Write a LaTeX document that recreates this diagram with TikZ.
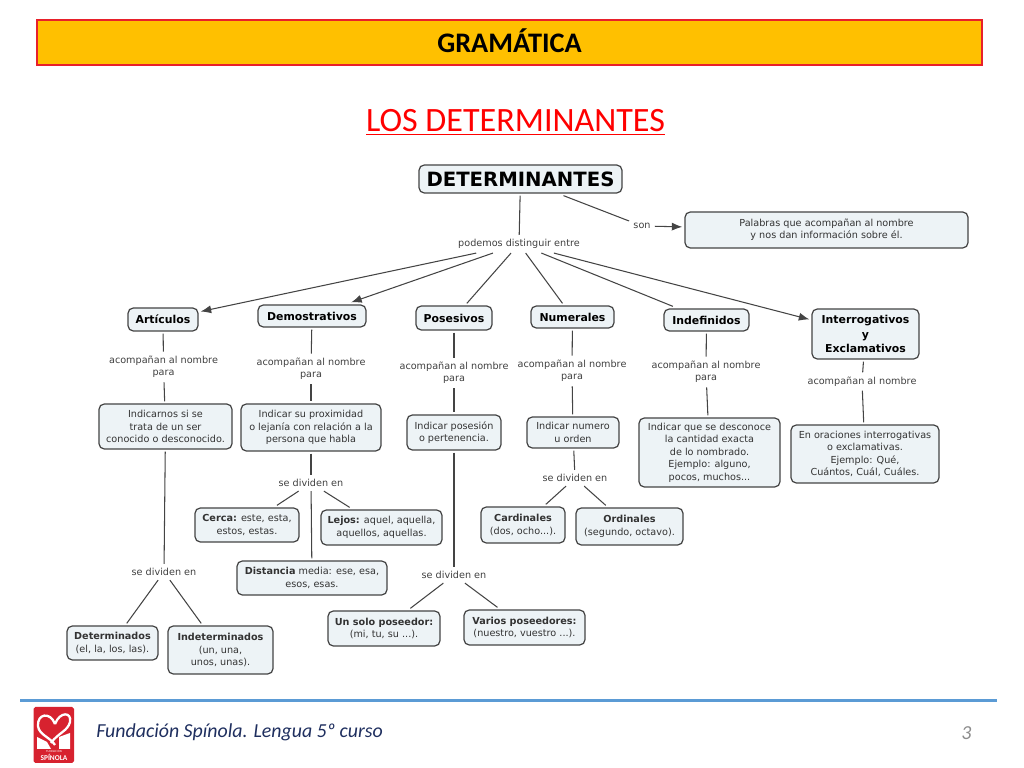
\documentclass[tikz,border=0pt]{standalone}
\usepackage{fontspec}
\setmainfont{DejaVu Sans}
\newfontfamily\slidefont{Carlito}
\usetikzlibrary{arrows.meta}
\definecolor{cajafondo}{HTML}{EDF3F6}
\definecolor{linea}{HTML}{444444}
\definecolor{franja}{HTML}{FFC000}
\definecolor{rojo}{HTML}{E8202A}
\definecolor{azul}{HTML}{5B9BD5}
\definecolor{marino}{HTML}{1F2F5F}
\definecolor{logorojo}{HTML}{D7222F}
\tikzset{
	caja/.style={draw=linea, fill=cajafondo, line width=0.7pt, rounded corners=3pt, align=center, inner sep=0pt, outer sep=1.5pt, font=\fontsize{5.5}{7.1}\selectfont, text=black!80},
	concepto/.style={caja, font=\fontsize{6.2}{8.2}\selectfont\bfseries, text=black},
	enlace/.style={align=center, inner sep=1pt, outer sep=1.5pt, font=\fontsize{5.5}{7.1}\selectfont, text=black!75},
	linktip/.style={draw=linea, line width=0.6pt},
	flecha/.style={linktip, -{Latex[length=6pt,width=4.6pt]}}
}
\begin{document}
\begin{tikzpicture}[x=0.2mm,y=-0.2mm]
	\useasboundingbox (0,0) rectangle (1024,768);
	%Cabecera
	\node [draw=rojo, fill=franja, line width=0.9pt, minimum width=18.9cm, minimum height=0.9cm, inner sep=0pt] (cabecera) at (509.5,42.5) {};
	\node [inner sep=0pt, font=\slidefont\fontsize{16.1}{18}\selectfont\bfseries] (rotulo) at (509.5,41) {GRAMÁTICA};
	\node [text=red, inner sep=0pt, font=\slidefont\fontsize{19.4}{22}\selectfont] (titulo) at (515.5,122) {\underline{LOS DETERMINANTES}};
	%Conceptos
	\node [concepto, minimum width=4.06cm, minimum height=0.56cm, font=\fontsize{11.2}{13}\selectfont\bfseries] (det) at (520.5,179) {DETERMINANTES};
	\node [caja, minimum width=5.66cm, minimum height=0.72cm] (def) at (826.5,230) {Palabras que acompañan al nombre\\y nos dan información sobre él.};
	\node [concepto, minimum width=1.4cm, minimum height=0.46cm] (art) at (163,319.5) {Artículos};
	\node [concepto, minimum width=2.16cm, minimum height=0.44cm] (dem) at (312,316) {Demostrativos};
	\node [concepto, minimum width=1.52cm, minimum height=0.48cm] (pos) at (454,318) {Posesivos};
	\node [concepto, minimum width=1.66cm, minimum height=0.44cm] (num) at (572.5,317) {Numerales};
	\node [concepto, minimum width=1.7cm, minimum height=0.44cm] (ind) at (706.5,320) {Indefinidos};
	\node [concepto, minimum width=2.14cm, minimum height=1cm] (int) at (865.5,334) {Interrogativos\\y\\Exclamativos};
	%Descripciones
	\node [caja, minimum width=2.66cm, minimum height=0.9cm] (artd) at (165.5,426.5) {Indicarnos si se\\trata de un ser\\conocido o desconocido.};
	\node [caja, minimum width=2.8cm, minimum height=0.94cm] (demd) at (311,427.5) {Indicar su proximidad\\o lejanía con relación a la\\persona que habla};
	\node [caja, minimum width=1.88cm, minimum height=0.7cm] (posd) at (454,432.5) {Indicar posesión\\o pertenencia.};
	\node [caja, minimum width=1.84cm, minimum height=0.62cm] (numd) at (573,432.5) {Indicar numero\\u orden};
	\node [caja, minimum width=2.82cm, minimum height=1.38cm] (indd) at (709.5,452.5) {Indicar que se desconoce\\la cantidad exacta\\de lo nombrado.\\Ejemplo: alguno,\\pocos, muchos...};
	\node [caja, minimum width=2.96cm, minimum height=1.16cm] (intd) at (865,454) {En oraciones interrogativas\\o exclamativas.\\Ejemplo: Qué,\\Cuántos, Cuál, Cuáles.};
	%Ejemplos
	\node [caja, minimum width=2.08cm, minimum height=0.68cm] (cerca) at (247,525) {\textbf{Cerca:} este, esta,\\estos, estas.};
	\node [caja, minimum width=2.42cm, minimum height=0.7cm] (lejos) at (381.5,527.5) {\textbf{Lejos:} aquel, aquella,\\aquellos, aquellas.};
	\node [caja, minimum width=3cm, minimum height=0.68cm] (dist) at (312,578) {\textbf{Distancia} media: ese, esa,\\esos, esas.};
	\node [caja, minimum width=1.82cm, minimum height=0.68cm] (dete) at (112.5,643) {\textbf{Determinados}\\(el, la, los, las).};
	\node [caja, minimum width=2.1cm, minimum height=0.96cm] (inde) at (220.5,650) {\textbf{Indeterminados}\\(un, una,\\unos, unas).};
	\node [caja, minimum width=2.24cm, minimum height=0.7cm] (solo) at (384,628.5) {\textbf{Un solo poseedor:}\\(mi, tu, su ...).};
	\node [caja, minimum width=2.42cm, minimum height=0.7cm] (varios) at (524.5,627.5) {\textbf{Varios poseedores:}\\(nuestro, vuestro ...).};
	\node [caja, minimum width=1.68cm, minimum height=0.72cm] (card) at (523,525) {\textbf{Cardinales}\\(dos, ocho...).};
	\node [caja, minimum width=2.14cm, minimum height=0.74cm] (ordi) at (629.5,526.5) {\textbf{Ordinales}\\(segundo, octavo).};
	%Enlaces
	\node [enlace] (son) at (642,226) {son};
	\node [enlace] (pode) at (519,244) {podemos distinguir entre};
	\node [enlace] (artp) at (163.5,367) {acompañan al nombre\\para};
	\node [enlace] (demp) at (311,369) {acompañan al nombre\\para};
	\node [enlace] (posp) at (454,373) {acompañan al nombre\\para};
	\node [enlace] (nump) at (572,371) {acompañan al nombre\\para};
	\node [enlace] (indp) at (706,372) {acompañan al nombre\\para};
	\node [enlace] (intp) at (862,381.5) {acompañan al nombre};
	\node [enlace] (artv) at (164,572) {se dividen en};
	\node [enlace] (demv) at (311,483) {se dividen en};
	\node [enlace] (posv) at (454,575) {se dividen en};
	\node [enlace] (numv) at (575,478) {se dividen en};
	%Flechas
	\draw [linktip] (det) -- (son);
	\draw [flecha] (son) -- (def);
	\draw [linktip] (det) -- (pode);
	\draw [flecha] (pode) -- (art);
	\draw [flecha] (pode) -- (dem);
	\draw [linktip] (pode) -- (pos);
	\draw [linktip] (pode) -- (num);
	\draw [linktip] (pode) -- (ind);
	\draw [flecha] (pode) -- (int);
	%Columnas
	\foreach \conc/\link/\desc in {art/artp/artd, dem/demp/demd, pos/posp/posd, num/nump/numd, ind/indp/indd, int/intp/intd}
		{\draw [linktip] (\conc) -- (\link);
		\draw [linktip] (\link) -- (\desc);}
	\foreach \desc/\link/\hijoa/\hijob in {artd/artv/dete/inde, demd/demv/cerca/lejos, posd/posv/solo/varios, numd/numv/card/ordi}
		{\draw [linktip] (\desc) -- (\link);
		\draw [linktip] (\link) -- (\hijoa);
		\draw [linktip] (\link) -- (\hijob);}
	\draw [linktip] (demv) -- (dist);
	%Pie
	\draw [azul, line width=1.5pt] (20,700.5) -- (997,700.5);
	\fill [logorojo, rounded corners=1pt] (33.5,707) rectangle (74,763);
	\draw [white, line width=1.3pt] (55,724) .. controls (50,711) and (37,714) .. (38,726) .. controls (39,735) and (50,737) .. (55,745);
	\draw [white, line width=1.3pt] (55,724) .. controls (60,711) and (72,712) .. (70,722) .. controls (68,731) and (58,733) .. (51,743);
	\fill [white] (37,737) -- (47,742) -- (51,749) -- (37,749) -- cycle;
	\fill [white] (59,737) -- (70,733) -- (70,749) -- (59,749) -- cycle;
	\node [text=white, inner sep=0pt, font=\fontsize{1.5}{2}\selectfont] (logoa) at (54,751.5) {FUNDACIÓN};
	\node [text=white, inner sep=0pt, font=\slidefont\fontsize{4.2}{5}\selectfont\bfseries] (logob) at (54,757.5) {SPÍNOLA};
	\node [anchor=west, text=marino, inner sep=0pt, font=\slidefont\fontsize{11.3}{13}\selectfont\itshape] (pie) at (96,732) {Fundación Spínola. Lengua 5º curso};
	\node [text=black!45, inner sep=0pt, font=\slidefont\fontsize{11.3}{13}\selectfont\itshape] (pagina) at (966.5,733) {3};
\end{tikzpicture}
\end{document}
